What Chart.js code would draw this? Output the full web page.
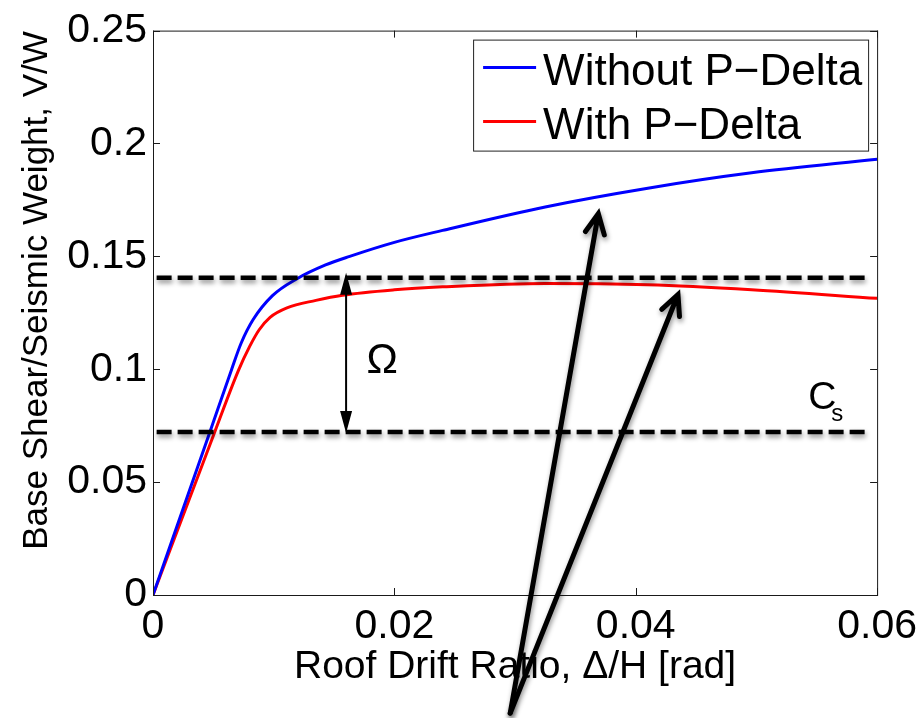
<!DOCTYPE html>
<html>
<head>
<meta charset="utf-8">
<script src="https://cdn.jsdelivr.net/npm/chart.js@4.4.0/dist/chart.umd.min.js"></script>
<style>
html, body { margin: 0; padding: 0; background: #fff; }
#wrap { width: 924px; height: 718px; }
</style>
</head>
<body>
<div id="wrap"><canvas id="chart"></canvas></div>
<script>
// pushover curves
var driftNoPD = [0, 0.0047, 0.0065, 0.0073, 0.0083, 0.0099, 0.0119, 0.0143, 0.0163, 0.0200, 0.0240, 0.0325, 0.0410, 0.0496, 0.0600];
var shearNoPD = [0, 0.0720, 0.0997, 0.1115, 0.1220, 0.1326, 0.1400, 0.1462, 0.1500, 0.1562, 0.1615, 0.1719, 0.1802, 0.1870, 0.1930];
var driftPD = [0, 0.0051, 0.0071, 0.0080, 0.0088, 0.0097, 0.0111, 0.0135, 0.0157, 0.0200, 0.0240, 0.0325, 0.0410, 0.0496, 0.0600];
var shearPD = [0, 0.0720, 0.0997, 0.1100, 0.1175, 0.1230, 0.1272, 0.1305, 0.1328, 0.1352, 0.1365, 0.1380, 0.1374, 0.1352, 0.1314];

// dashed levels: overstrength and design coefficient Cs
var levelDrift = [0.0003, 0.059];
var omegaLevel = [0.1405, 0.1405];
var csLevel = [0.0722, 0.0722];

var xTicks = [0, 0.02, 0.04, 0.06];
var xTickLabels = ['0', '0.02', '0.04', '0.06'];
var yTicks = [0, 0.05, 0.1, 0.15, 0.2, 0.25];
var yTickLabels = ['0', '0.05', '0.1', '0.15', '0.2', '0.25'];

// annotation anchors (data units)
var omegaArrowX = 0.016;
var omegaText = [0.0190, 0.1033];
var csText = [0.0543, 0.0822];
var pointerStart = [0.0296, -0.0523];
var pointerTips = [[0.0369, 0.1689], [0.0435, 0.1331]];

var FONT = "'Liberation Sans', Arial, Helvetica, sans-serif";

function pts(xs, ys) {
    return xs.map(function (x, i) { return { x: x, y: ys[i] }; });
}

var shadowPlugin = {
    id: 'shadow',
    beforeDatasetDraw: function (chart, args) {
        if (!args.meta._dataset.shadow) return;
        var ctx = chart.ctx;
        ctx.save();
        ctx.shadowColor = 'rgba(0,0,0,0.45)';
        ctx.shadowBlur = 5;
        ctx.shadowOffsetX = 1;
        ctx.shadowOffsetY = 3;
    },
    afterDatasetDraw: function (chart, args) {
        if (!args.meta._dataset.shadow) return;
        chart.ctx.restore();
    }
};

function arrowHead(ctx, x, y, ang, len, half) {
    ctx.beginPath();
    ctx.moveTo(x, y);
    ctx.lineTo(x - len * Math.cos(ang) + half * Math.sin(ang), y - len * Math.sin(ang) - half * Math.cos(ang));
    ctx.lineTo(x - len * Math.cos(ang) - half * Math.sin(ang), y - len * Math.sin(ang) + half * Math.cos(ang));
    ctx.closePath();
    ctx.fill();
}

var decorPlugin = {
    id: 'decor',
    afterDraw: function (chart) {
        var ctx = chart.ctx;
        var a = chart.chartArea;
        var xs = chart.scales.x, ys = chart.scales.y;
        ctx.save();

        // axes box
        ctx.strokeStyle = '#1a1a1a';
        ctx.lineWidth = 1;
        ctx.strokeRect(a.left + 0.5, a.top + 0.5, a.right - a.left, a.bottom - a.top);

        // inward ticks on all four sides
        ctx.beginPath();
        xTicks.forEach(function (v) {
            var px = Math.round(xs.getPixelForValue(v)) + 0.5;
            ctx.moveTo(px, a.bottom); ctx.lineTo(px, a.bottom - 7);
            ctx.moveTo(px, a.top); ctx.lineTo(px, a.top + 7);
        });
        yTicks.forEach(function (v) {
            var py = Math.round(ys.getPixelForValue(v)) + 0.5;
            ctx.moveTo(a.left, py); ctx.lineTo(a.left + 7, py);
            ctx.moveTo(a.right, py); ctx.lineTo(a.right - 7, py);
        });
        ctx.stroke();

        // y title
        ctx.save();
        ctx.translate(47, 290.5);
        ctx.rotate(-Math.PI / 2);
        ctx.fillStyle = '#000';
        ctx.font = '35px ' + FONT;
        ctx.textAlign = 'center';
        ctx.textBaseline = 'alphabetic';
        ctx.fillText('Base Shear/Seismic Weight, V/W', 0, 0);
        ctx.restore();

        // legend
        var lx = a.right - 404, ly = a.top + 9;
        ctx.fillStyle = '#fff';
        ctx.fillRect(lx, ly, 395, 111);
        ctx.strokeStyle = '#222';
        ctx.strokeRect(lx + 0.5, ly + 0.5, 395, 111);
        ctx.font = '44px ' + FONT;
        ctx.textAlign = 'left';
        ctx.textBaseline = 'alphabetic';
        [0, 1].forEach(function (i) {
            var ds = chart.data.datasets[i];
            var yy = ly + 28 + i * 54;
            ctx.strokeStyle = ds.borderColor;
            ctx.lineWidth = 3;
            ctx.beginPath();
            ctx.moveTo(lx + 10, yy); ctx.lineTo(lx + 63, yy);
            ctx.stroke();
            ctx.fillStyle = '#000';
            ctx.fillText(ds.label, lx + 70, yy + 17);
        });

        // overstrength double arrow
        var ox = xs.getPixelForValue(omegaArrowX);
        var oTop = ys.getPixelForValue(omegaLevel[0]) - 5;
        var oBot = ys.getPixelForValue(csLevel[0]) + 1;
        ctx.fillStyle = '#000';
        ctx.strokeStyle = '#000';
        ctx.lineWidth = 2;
        ctx.beginPath();
        ctx.moveTo(ox, oTop + 15); ctx.lineTo(ox, oBot - 15);
        ctx.stroke();
        arrowHead(ctx, ox, oTop, -Math.PI / 2, 22, 6);
        arrowHead(ctx, ox, oBot, Math.PI / 2, 22, 6);

        // labels
        ctx.font = '42px ' + FONT;
        ctx.textAlign = 'center';
        ctx.textBaseline = 'middle';
        ctx.fillText('\u03A9', xs.getPixelForValue(omegaText[0]), ys.getPixelForValue(omegaText[1]));
        ctx.textAlign = 'left';
        ctx.textBaseline = 'alphabetic';
        var cx = xs.getPixelForValue(csText[0]), cy = ys.getPixelForValue(csText[1]);
        ctx.font = '39px ' + FONT;
        ctx.fillText('C', cx, cy);
        ctx.font = '24px ' + FONT;
        ctx.fillText('s', cx + 23, cy + 12);

        // pointer arrows
        ctx.shadowColor = 'rgba(0,0,0,0.45)';
        ctx.shadowBlur = 5;
        ctx.shadowOffsetX = 1;
        ctx.shadowOffsetY = 3;
        ctx.lineWidth = 5;
        ctx.lineCap = 'round';
        ctx.lineJoin = 'miter';
        var sx = xs.getPixelForValue(pointerStart[0]), sy = ys.getPixelForValue(pointerStart[1]);
        pointerTips.forEach(function (t) {
            var tx = xs.getPixelForValue(t[0]), ty = ys.getPixelForValue(t[1]);
            var ang = Math.atan2(ty - sy, tx - sx);
            var wl = 22, wa = 0.45;
            ctx.beginPath();
            ctx.moveTo(sx, sy); ctx.lineTo(tx, ty);
            ctx.moveTo(tx - wl * Math.cos(ang - wa), ty - wl * Math.sin(ang - wa));
            ctx.lineTo(tx, ty);
            ctx.lineTo(tx - wl * Math.cos(ang + wa), ty - wl * Math.sin(ang + wa));
            ctx.stroke();
        });
        ctx.restore();
    }
};

new Chart(document.getElementById('chart'), {
    type: 'line',
    data: {
        datasets: [
            { label: 'Without P\u2212Delta', data: pts(driftNoPD, shearNoPD), borderColor: '#0000ff', borderWidth: 3, pointRadius: 0, cubicInterpolationMode: 'monotone', order: 1 },
            { label: 'With P\u2212Delta', data: pts(driftPD, shearPD), borderColor: '#ff0000', borderWidth: 3, pointRadius: 0, cubicInterpolationMode: 'monotone', order: 1 },
            { label: 'Omega Cs', data: pts(levelDrift, omegaLevel), borderColor: '#000', borderWidth: 4.5, borderDash: [15, 6], pointRadius: 0, shadow: true, order: 0 },
            { label: 'Cs', data: pts(levelDrift, csLevel), borderColor: '#000', borderWidth: 4.5, borderDash: [15, 6], pointRadius: 0, shadow: true, order: 0 }
        ]
    },
    options: {
        responsive: true,
        maintainAspectRatio: false,
        animation: false,
        layout: { padding: { top: 26, right: 45, left: 0, bottom: 0 } },
        plugins: { legend: { display: false }, tooltip: { enabled: false } },
        scales: {
            x: {
                type: 'linear', min: 0, max: 0.06,
                afterBuildTicks: function (s) { s.ticks = xTicks.map(function (v) { return { value: v }; }); },
                afterFit: function (s) { s.height = 123; },
                grid: { display: false, drawTicks: false },
                border: { display: false },
                ticks: {
                    color: '#000', padding: 7, maxRotation: 0, autoSkip: false,
                    font: { family: FONT, size: 41 },
                    callback: function (v) { return xTickLabels[xTicks.indexOf(v)]; }
                },
                title: { display: true, text: 'Roof Drift Ratio, \u0394/H [rad]', color: '#000', font: { family: FONT, size: 39 }, padding: { top: 0, bottom: 27 } }
            },
            y: {
                min: 0, max: 0.25,
                afterBuildTicks: function (s) { s.ticks = yTicks.map(function (v) { return { value: v }; }); },
                afterFit: function (s) { s.width = 153; },
                grid: { display: false, drawTicks: false },
                border: { display: false },
                ticks: {
                    color: '#000', padding: 6, autoSkip: false,
                    font: { family: FONT, size: 41 },
                    callback: function (v) { return yTickLabels[yTicks.indexOf(v)]; }
                }
            }
        }
    },
    plugins: [shadowPlugin, decorPlugin]
});
</script>
</body>
</html>
